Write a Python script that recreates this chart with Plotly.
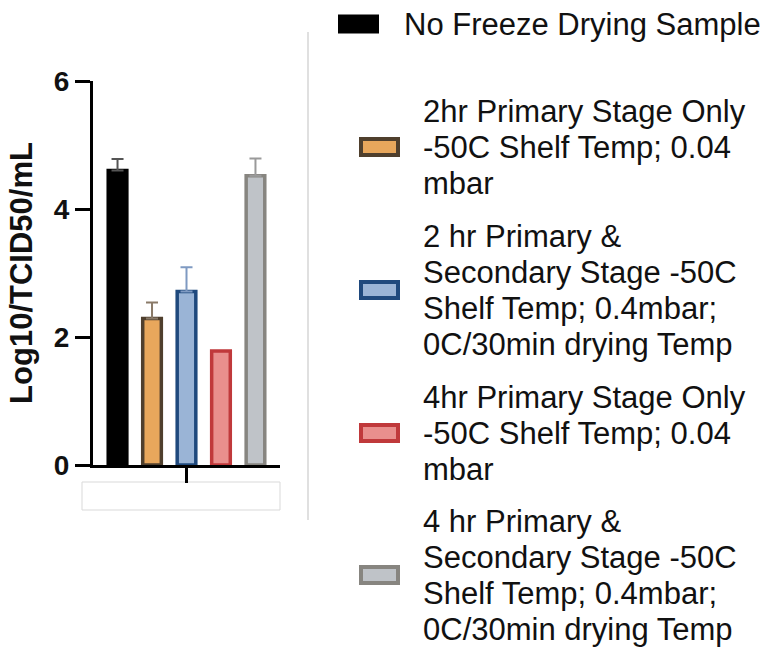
import plotly.graph_objects as go

# ---- data ----
series_names = [
    "No Freeze Drying Sample",
    "2hr Primary Stage Only<br>-50C Shelf Temp; 0.04<br>mbar",
    "2 hr Primary &<br>Secondary Stage -50C<br>Shelf Temp; 0.4mbar;<br>0C/30min drying Temp",
    "4hr Primary Stage Only<br>-50C Shelf Temp; 0.04<br>mbar",
    "4 hr Primary &<br>Secondary Stage -50C<br>Shelf Temp; 0.4mbar;<br>0C/30min drying Temp",
]
values = [4.60, 2.29, 2.71, 1.78, 4.52]
errors = [0.18, 0.25, 0.38, 0.0, 0.27]
y_ticks = [0, 2, 4, 6]
y_title = "Log10/TCID50/mL"

# ---- styles ----
fills = ["#000000", "#E8A75C", "#9AB4D6", "#E98F8D", "#BFC3C8"]
edges = ["#000000", "#4F3F2D", "#1F497D", "#C0393B", "#878580"]
err_colors = ["#555555", "#8A7A68", "#7F9AC2", "#C0393B", "#9A9A9A"]

# plot area geometry in pixels
W, H = 767, 648
L, R, T, B = 93, 280, 81, 465


def px_x(px):
    return (px - L) / (R - L)


def px_y(py):
    return (B - py) / (B - T)


fig = go.Figure()
for i, name in enumerate(series_names):
    fig.add_trace(go.Bar(
        x=[0], y=[values[i]], name=name.replace("<br>", " "),
        marker=dict(color=fills[i], line=dict(color=edges[i], width=3.5)),
        error_y=dict(type="data", symmetric=False, array=[errors[i]], arrayminus=[0],
                     color=err_colors[i], thickness=2, width=6,
                     visible=errors[i] > 0),
        showlegend=False,
    ))

shapes = []
annotations = []

# empty label box under the x axis
shapes.append(dict(type="rect", xref="paper", yref="paper",
                   x0=px_x(82), x1=px_x(280), y0=px_y(510), y1=px_y(482),
                   line=dict(color="#D9D9D9", width=1), fillcolor="white", layer="below"))
# vertical separator line
shapes.append(dict(type="line", xref="paper", yref="paper",
                   x0=px_x(308), x1=px_x(308), y0=px_y(520), y1=px_y(32),
                   line=dict(color="#D6D6D6", width=1.5)))

# custom legend (swatch centres in px)
sw_centres = [24, 147, 290, 433, 575]
line_gap = 36
for i, name in enumerate(series_names):
    cy = sw_centres[i]
    if i == 0:
        x0, x1, tx = 338, 379, 402
        shapes.append(dict(type="rect", xref="paper", yref="paper",
                           x0=px_x(x0), x1=px_x(x1), y0=px_y(cy + 9.5), y1=px_y(cy - 9.5),
                           line=dict(width=0), fillcolor=fills[i]))
    else:
        x0, x1, tx = 359, 400, 421
        shapes.append(dict(type="rect", xref="paper", yref="paper",
                           x0=px_x(x0 + 2), x1=px_x(x1 - 2), y0=px_y(cy + 8), y1=px_y(cy - 8),
                           line=dict(color=edges[i], width=4), fillcolor=fills[i]))
    lines = name.split("<br>")
    n = len(lines)
    for k, ln in enumerate(lines):
        ly = cy + (k - (n - 1) / 2) * line_gap
        annotations.append(dict(xref="paper", yref="paper", x=px_x(tx), y=px_y(ly),
                                xanchor="left", yanchor="middle", showarrow=False,
                                text=ln, font=dict(size=31, color="#111111",
                                                   family="Liberation Sans, Arial, sans-serif")))

fig.update_layout(
    width=W, height=H, autosize=False,
    margin=dict(l=L, r=W - R, t=T, b=H - B, pad=0),
    paper_bgcolor="white", plot_bgcolor="white",
    barmode="group", bargap=0.078, bargroupgap=0.46,
    font=dict(family="Liberation Sans, Arial, sans-serif", color="#111111"),
    xaxis=dict(range=[-0.5, 0.5], tickvals=[0], ticktext=[""], showline=True,
               linecolor="black", linewidth=3, ticks="outside", ticklen=15, tickwidth=3,
               tickcolor="black", showgrid=False, zeroline=False, fixedrange=True),
    yaxis=dict(range=[0, 6], tickvals=y_ticks, showline=True, linecolor="black", linewidth=3,
               ticks="outside", ticklen=15, tickwidth=3, tickcolor="black",
               showgrid=False, zeroline=False, fixedrange=True,
               tickfont=dict(size=28, weight="bold", color="#111111"),
               title=dict(text=y_title, standoff=12,
                          font=dict(size=31, weight="bold", color="#111111"))),
    shapes=shapes, annotations=annotations, showlegend=False,
)

fig.write_html("out.html", config={"displayModeBar": False},
               post_script="document.body.style.margin='0';document.body.style.overflow='hidden';")
